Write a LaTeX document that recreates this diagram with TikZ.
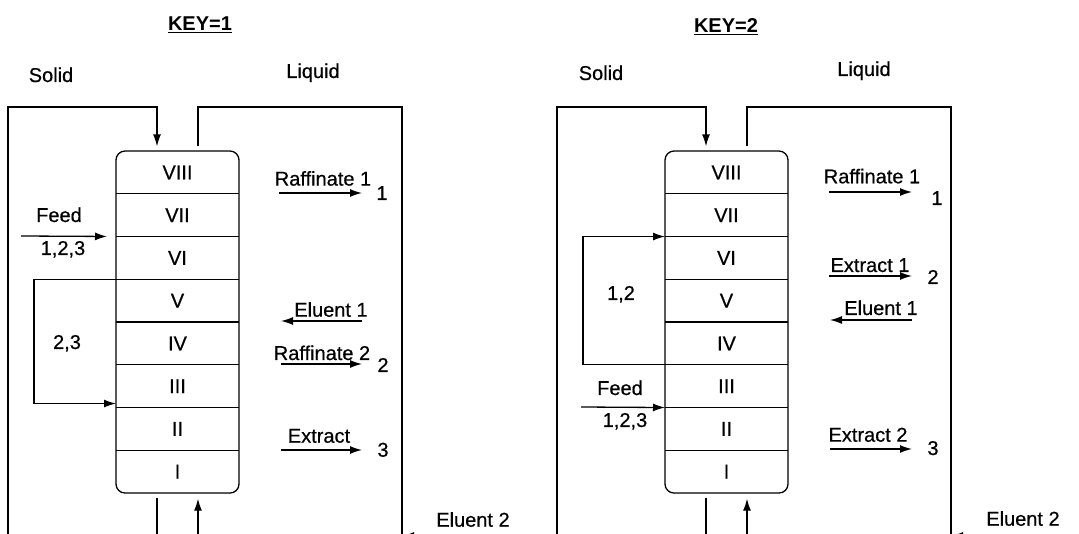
\documentclass[tikz,border=0pt]{standalone}
\usepackage{fontspec}
\setmainfont{Liberation Sans}[UprightFeatures={FakeBold=0.5}]
\usetikzlibrary{positioning,fit,arrows.meta}

\tikzset{
  sec/.style={minimum width=123pt, minimum height=42.75pt, inner sep=0pt, outer sep=0pt},
  lbl/.style={inner sep=0pt, anchor=base},
  flow/.style={-{Latex[length=12pt,width=8pt]}},
}

% one column with its solid and liquid loops
\newcommand{\smbunit}[2]{%
  \begin{scope}[xshift=#2]
    \node[sec] (#1s8) at (177.5,172.4) {VIII};
    \foreach \i/\j/\t in {7/8/VII,6/7/VI,5/6/V,4/5/IV,3/4/III,2/3/II,1/2/I}
      \node[sec, below=0pt of #1s\j] (#1s\i) {\t};
    \node[draw, rounded corners=9pt, inner sep=0pt, fit=(#1s8)(#1s1)] (#1col) {};
    \foreach \i in {2,...,8}
      \draw (#1s\i.south west) -- (#1s\i.south east);
    \coordinate (#1sin) at (8,560);
    \coordinate (#1stop) at (157,107);
    \coordinate (#1ltop) at (198,107);
    \coordinate (#1lout) at (402,560);
    \draw[flow, shorten >=4pt] (#1sin) |- (#1stop) -- (#1stop |- #1col.north);
    \draw (#1col.south -| #1stop) ++(0,4) -- (#1stop |- #1sin);
    \draw (#1col.north -| #1ltop) ++(0,-4) -- (#1ltop) -| (#1lout);
    \draw[flow, shorten >=5pt] (#1ltop |- #1lout) -- (#1col.south -| #1ltop);
    \coordinate (#1e2) at (460,536);
    \draw[flow] (#1e2) -- (#1e2 -| #1lout);
  \end{scope}}

\begin{document}
\begin{tikzpicture}[x=1pt,y=-1pt,line width=1.3pt,font=\fontsize{20pt}{23pt}\selectfont]
\useasboundingbox (0,0) rectangle (1079,534);
\clip (0,0) rectangle (1079,534);

% KEY=1
\smbunit{l}{0pt}
\node[lbl] (key1) at (200,31) {\textbf{\underline{KEY=1}}};
\node[lbl] (solid1) at (51,82) {Solid};
\node[lbl] (liquid1) at (313,78) {Liquid};
\node[lbl] (feed1) at (59,222) {Feed};
\node[lbl] (feedc1) at (63,255) {1,2,3};
\coordinate (feedin1) at (21,236);
\draw[flow, shorten >=9pt] (feedin1) -- (ls7.south west);
\coordinate (loop1) at (34,340);
\draw[flow] (ls5.north west) -| (loop1) |- ([yshift=4pt]ls3.south west);
\node[lbl] (rec1) at (67,349) {2,3};
\node[lbl] (raf1) at (323,185.6) {Raffinate 1};
\node[lbl] (num11) at (382,200) {1};
\path (279,193) coordinate (raf1a) (362,193) coordinate (raf1b);
\draw[flow] (raf1a) -- (raf1b);
\node[lbl] (elu1) at (331,316.7) {Eluent 1};
\path (362,321) coordinate (elu1a) (281,321) coordinate (elu1b);
\draw[flow] (elu1a) -- (elu1b);
\node[lbl] (raf2) at (322,360) {Raffinate 2};
\node[lbl] (num12) at (383,372) {2};
\path (281,364) coordinate (raf2a) (362,364) coordinate (raf2b);
\draw[flow] (raf2a) -- (raf2b);
\node[lbl] (ext) at (319,442.7) {Extract};
\node[lbl] (num13) at (383,456.7) {3};
\path (281,450) coordinate (exta) (362,450) coordinate (extb);
\draw[flow] (exta) -- (extb);
\node[lbl] (elu21) at (473,526.7) {Eluent 2};

% KEY=2
\smbunit{r}{549pt}
\node[lbl] (key2) at (726,33) {\textbf{\underline{KEY=2}}};
\node[lbl] (solid2) at (601,80) {Solid};
\node[lbl] (liquid2) at (864,76) {Liquid};
\coordinate (loop2) at (583,300);
\draw[flow] (rs4.south west) -| (loop2) |- (rs7.south west);
\node[lbl] (rec2) at (621,300) {1,2};
\node[lbl] (feed2) at (620,395) {Feed};
\node[lbl] (feedc2) at (625,427) {1,2,3};
\coordinate (feedin2) at (581,407);
\draw[flow] (feedin2) -- (rs3.south west);
\node[lbl] (raf12) at (872,183.3) {Raffinate 1};
\node[lbl] (num21) at (937,205) {1};
\path (829,192) coordinate (raf12a) (912,192) coordinate (raf12b);
\draw[flow] (raf12a) -- (raf12b);
\node[lbl] (ext1) at (870,272) {Extract 1};
\node[lbl] (num22) at (933,284) {2};
\path (829,276) coordinate (ext1a) (912,276) coordinate (ext1b);
\draw[flow] (ext1a) -- (ext1b);
\node[lbl] (elu12) at (881,315) {Eluent 1};
\path (912,320) coordinate (elu12a) (830,320) coordinate (elu12b);
\draw[flow] (elu12a) -- (elu12b);
\node[lbl] (ext2) at (868,441.7) {Extract 2};
\node[lbl] (num23) at (933,455) {3};
\path (830,449) coordinate (ext2a) (912,449) coordinate (ext2b);
\draw[flow] (ext2a) -- (ext2b);
\node[lbl] (elu22) at (1023,525.7) {Eluent 2};
\end{tikzpicture}
\end{document}
